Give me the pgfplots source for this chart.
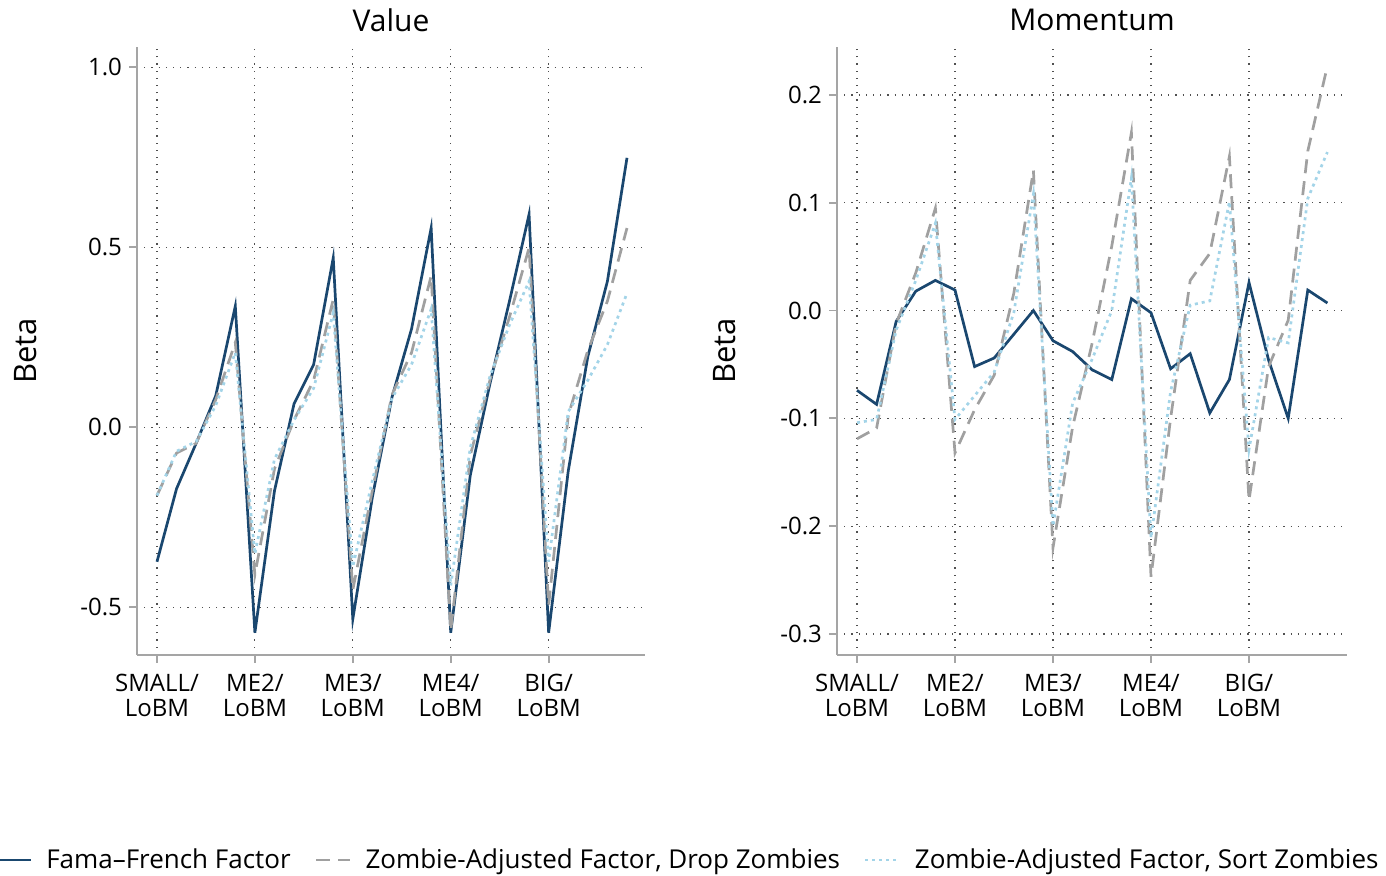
\documentclass[border=0pt]{standalone}
\usepackage{fontspec}
\setmainfont{Open Sans}
\usepackage{pgfplots}
\usepackage{pgfplotstable}
\pgfplotsset{compat=1.18}
\definecolor{ffblue}{RGB}{26,71,111}
\definecolor{dropgray}{RGB}{160,160,160}
\definecolor{sortblue}{RGB}{163,212,232}
\definecolor{axgray}{RGB}{165,165,165}
\definecolor{gridc}{RGB}{80,80,80}

\pgfplotstableread{
x ff drop sort
1 -0.374 -0.190 -0.190
2 -0.171 -0.072 -0.067
3 -0.045 -0.045 -0.040
4 0.087 0.076 0.060
5 0.336 0.235 0.207
6 -0.571 -0.410 -0.352
7 -0.177 -0.116 -0.089
8 0.065 0.020 0.020
9 0.174 0.130 0.108
10 0.470 0.355 0.317
11 -0.533 -0.452 -0.388
12 -0.194 -0.175 -0.148
13 0.083 0.090 0.080
14 0.273 0.207 0.174
15 0.553 0.420 0.328
16 -0.571 -0.566 -0.440
17 -0.133 -0.078 -0.056
18 0.120 0.130 0.141
19 0.350 0.306 0.284
20 0.591 0.498 0.405
21 -0.571 -0.495 -0.374
22 -0.122 0.032 0.043
23 0.196 0.213 0.130
24 0.405 0.350 0.229
25 0.748 0.553 0.372
}\valuedata

\pgfplotstableread{
x ff drop sort
1 -0.074 -0.119 -0.104
2 -0.087 -0.109 -0.101
3 -0.010 -0.012 -0.018
4 0.018 0.035 0.028
5 0.028 0.095 0.081
6 0.019 -0.132 -0.101
7 -0.052 -0.092 -0.079
8 -0.044 -0.060 -0.057
9 -0.022 0.016 -0.002
10 0.000 0.130 0.108
11 -0.028 -0.220 -0.200
12 -0.038 -0.108 -0.086
13 -0.055 -0.030 -0.045
14 -0.064 0.060 0.000
15 0.011 0.165 0.123
16 -0.002 -0.247 -0.211
17 -0.054 -0.100 -0.075
18 -0.040 0.028 0.005
19 -0.095 0.053 0.009
20 -0.064 0.143 0.101
21 0.026 -0.176 -0.129
22 -0.046 -0.052 -0.025
23 -0.100 -0.009 -0.030
24 0.019 0.148 0.104
25 0.007 0.227 0.147
}\momdata

\pgfplotsset{
  panel/.style={
    scale only axis,
    height=304pt,
    axis lines*=left,
    axis line style={axgray, line width=1pt},
    xmin=-0.02,
    xtick={1,6,11,16,21},
    xticklabels={{SMALL/\\LoBM},{ME2/\\LoBM},{ME3/\\LoBM},{ME4/\\LoBM},{BIG/\\LoBM}},
    xticklabel style={align=center, font=\fontsize{12}{12.5}\selectfont, yshift=-2pt},
    yticklabel style={font=\fontsize{12}{14}\selectfont},
    grid=major,
    major grid style={gridc, line width=0.6pt, dash pattern=on 0.6pt off 3pt},
    tick style={axgray, line width=0.9pt},
    major tick length=4pt,
    tick align=outside,
    /pgf/number format/assume math mode=true,
    yticklabel={\pgfmathprintnumber[fixed, fixed zerofill, precision=1]{\tick}},
    title style={font=\fontsize{15}{17}\selectfont, at={(axis description cs:0.5,1)}, anchor=center, yshift=7.5pt},
    ylabel={Beta},
    ylabel style={font=\fontsize{15.5}{17}\selectfont, anchor=center},
    clip=false,
  },
  ffline/.style={ffblue, line width=1.35pt},
  dropline/.style={dropgray, line width=1.35pt, dash pattern=on 7pt off 4pt},
  sortline/.style={sortblue, line width=1.35pt, dash pattern=on 1.5pt off 2pt},
}

\begin{document}
\begin{tikzpicture}
\useasboundingbox (0,0) rectangle (693pt,438pt);
\begin{axis}[panel,
  at={(68.5pt,110.5pt)}, anchor=south west,
  width=254pt, xmax=25.92,
  ymin=-0.633, ymax=1.056,
  ytick={-0.5,0,0.5,1},
  title={Value},
  ylabel style={at={(axis description cs:-0.2185,0.5)}},
  legend style={at={(axis description cs:1.0866,-0.3372)}, anchor=center,
    legend columns=3, draw=none, fill=none,
    font=\fontsize{13}{15}\selectfont,
    /tikz/every odd column/.append style={column sep=5pt},
    /tikz/every even column/.append style={column sep=10pt}},
  legend cell align=left,
]
\addplot[ffline] table[x=x, y=ff] {\valuedata};
\addlegendentry{Fama–French Factor}
\addplot[dropline] table[x=x, y=drop] {\valuedata};
\addlegendentry{Zombie-Adjusted Factor, Drop Zombies}
\addplot[sortline] table[x=x, y=sort] {\valuedata};
\addlegendentry{Zombie-Adjusted Factor, Sort Zombies}
\end{axis}
\begin{axis}[panel,
  at={(418.5pt,110.5pt)}, anchor=south west,
  width=255pt, xmax=26.0,
  ymin=-0.3195, ymax=0.2445,
  ytick={-0.3,-0.2,-0.1,0,0.1,0.2},
  title={Momentum},
  ylabel style={at={(axis description cs:-0.2196,0.5)}},
]
\addplot[ffline] table[x=x, y=ff] {\momdata};
\addplot[dropline] table[x=x, y=drop] {\momdata};
\addplot[sortline] table[x=x, y=sort] {\momdata};
\end{axis}
\end{tikzpicture}
\end{document}
